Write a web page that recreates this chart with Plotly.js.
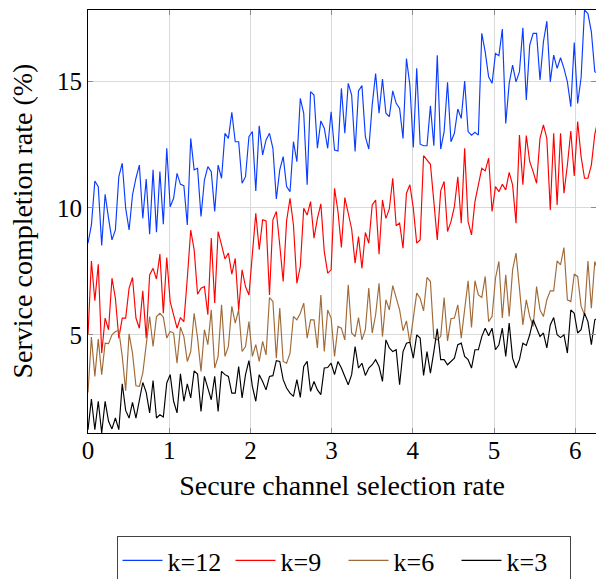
<!DOCTYPE html>
<html>
<head>
<meta charset="utf-8">
<script src="https://cdn.plot.ly/plotly-3.0.1.min.js"></script>
<style>html,body{margin:0;padding:0;background:#fff;}#chart{width:596px;height:579px;}</style>
</head>
<body>
<div id="chart"></div>
<script>
const N = 150;
const xStart = 0;
const xEnd = 2 * Math.PI;
const seriesNames = ['k=12', 'k=9', 'k=6', 'k=3'];
const xTicks = [0, 1, 2, 3, 4, 5, 6];
const yTicks = [5, 10, 15];

const k12 = [
8.61, 9.33, 11.06, 10.84, 8.52, 10.54, 9.59, 8.74, 9.13, 11.23, 11.76, 9.99, 9.13, 10.51, 11.17, 11.69, 9.59, 11.14, 8.96, 11.50, 9.04, 11.43, 9.36, 12.35, 10.05, 10.38, 11.36, 10.93, 10.88, 9.33,
12.74, 11.50, 11.56, 9.66, 11.10, 11.63, 11.43, 9.86, 11.69, 11.17, 12.94, 12.74, 13.77, 12.61, 12.61, 10.97, 11.23, 12.81, 13.01, 10.67, 13.24, 12.09, 12.68, 12.94, 12.35, 10.35, 11.50, 12.02, 10.84, 10.64,
12.61, 11.82, 14.32, 13.73, 10.91, 14.58, 14.45, 12.35, 13.43, 13.14, 12.35, 13.79, 12.28, 12.24, 14.71, 12.94, 14.91, 14.45, 12.22, 14.61, 14.82, 12.81, 12.32, 14.06, 15.30, 13.73, 15.08, 13.73, 13.60, 14.61,
14.12, 13.92, 12.74, 15.89, 14.84, 12.38, 15.50, 12.51, 12.45, 12.45, 14.02, 12.45, 16.02, 12.32, 13.01, 14.95, 12.61, 12.94, 13.90, 13.53, 15.00, 13.01, 12.87, 12.98, 12.87, 16.88, 16.15, 15.17, 14.91, 16.09,
16.00, 17.05, 13.33, 14.91, 15.63, 14.97, 15.37, 17.10, 14.25, 16.42, 16.88, 16.88, 15.04, 16.55, 17.36, 14.97, 16.02, 15.50, 15.92, 15.50, 14.97, 13.99, 16.52, 14.12, 15.13, 17.80, 17.66, 16.94, 15.37, 15.30
];
const k9 = [
5.00, 7.91, 6.34, 7.78, 4.28, 5.66, 5.20, 7.23, 6.44, 4.87, 5.66, 5.66, 6.84, 7.26, 5.66, 5.26, 6.73, 4.87, 7.36, 7.62, 7.20, 8.18, 5.85, 8.04, 6.31, 5.79, 5.26, 5.68, 5.52, 7.23,
9.13, 8.35, 6.60, 6.84, 6.90, 5.79, 8.81, 6.25, 9.07, 8.54, 7.99, 8.22, 7.39, 8.01, 5.98, 7.56, 6.90, 6.57, 8.22, 9.79, 8.35, 9.53, 9.49, 6.57, 9.53, 9.86, 8.54, 7.10, 9.49, 10.38,
9.33, 7.03, 7.69, 9.99, 9.72, 10.25, 8.81, 9.59, 10.16, 8.28, 7.43, 7.56, 10.77, 9.86, 8.44, 10.41, 9.79, 9.17, 7.82, 8.87, 7.62, 9.03, 8.61, 10.12, 10.31, 8.18, 10.31, 9.59, 9.96, 11.17,
9.30, 9.40, 8.41, 10.58, 10.91, 9.99, 8.61, 8.74, 12.06, 11.89, 11.72, 10.25, 8.74, 10.67, 11.04, 9.07, 9.46, 10.05, 11.23, 9.40, 12.35, 9.46, 8.94, 10.25, 10.84, 11.56, 11.46, 11.96, 9.86, 10.84,
10.64, 10.93, 10.71, 11.40, 10.91, 9.40, 12.87, 10.91, 12.85, 11.82, 11.43, 10.97, 12.74, 13.27, 12.74, 9.92, 12.94, 10.12, 12.94, 10.58, 11.69, 13.03, 11.26, 13.40, 12.02, 11.17, 11.17, 11.69, 12.90, 13.50
];
const k6 = [
2.73, 4.91, 3.36, 4.83, 3.43, 4.67, 4.65, 5.00, 5.13, 5.17, 4.15, 2.80, 5.04, 4.28, 2.99, 2.97, 3.49, 4.54, 5.72, 4.54, 5.72, 5.85, 5.70, 4.87, 5.13, 5.07, 3.88, 5.30, 4.93, 3.95,
4.34, 5.85, 4.87, 3.56, 5.20, 4.61, 5.98, 3.69, 4.15, 6.18, 4.15, 4.54, 6.12, 5.46, 5.98, 4.34, 4.54, 5.52, 4.15, 4.61, 3.95, 4.74, 4.21, 6.47, 6.31, 4.08, 6.05, 3.95, 3.88, 4.28,
5.72, 5.59, 5.85, 6.25, 4.87, 5.59, 5.59, 4.48, 6.57, 4.34, 5.98, 5.66, 4.15, 5.33, 5.26, 4.80, 6.97, 5.07, 4.93, 5.68, 4.80, 5.20, 6.84, 5.07, 5.79, 7.03, 4.93, 6.38, 5.98, 6.94,
6.44, 5.98, 5.16, 5.55, 4.67, 5.72, 6.64, 6.44, 5.94, 7.26, 7.10, 4.87, 4.80, 4.93, 6.47, 4.76, 5.63, 5.66, 6.18, 4.87, 6.12, 7.13, 5.29, 7.13, 6.57, 6.47, 7.30, 5.52, 5.72, 7.23,
7.89, 5.66, 7.36, 5.72, 7.56, 8.22, 6.84, 5.39, 6.38, 5.72, 5.33, 6.90, 5.98, 5.72, 6.38, 6.73, 6.73, 7.91, 7.76, 8.44, 6.38, 6.31, 7.39, 7.30, 6.12, 5.79, 7.91, 6.05, 7.89, 7.49
];
const k3 = [
1.26, 2.47, 1.26, 2.38, 1.13, 2.38, 1.59, 1.29, 1.72, 1.26, 3.07, 2.02, 1.72, 2.34, 1.72, 2.47, 3.12, 2.73, 1.92, 3.20, 1.72, 1.85, 1.76, 3.10, 3.43, 2.38, 1.92, 3.46, 2.38, 3.07,
2.51, 3.58, 3.45, 1.98, 3.36, 2.90, 2.44, 3.36, 1.98, 3.56, 3.43, 3.36, 2.70, 2.70, 3.75, 2.51, 3.43, 3.98, 2.97, 2.38, 3.43, 3.16, 2.83, 3.36, 3.39, 3.98, 3.95, 3.23, 2.90, 2.70,
2.57, 3.23, 2.53, 3.75, 3.95, 2.77, 3.16, 2.83, 2.64, 3.69, 3.71, 3.88, 3.43, 3.95, 3.69, 3.36, 3.03, 3.43, 4.54, 3.69, 3.88, 3.40, 3.69, 3.82, 4.02, 3.75, 3.16, 4.80, 4.48, 4.34,
4.41, 3.03, 4.34, 4.67, 4.71, 4.08, 5.00, 4.87, 3.40, 4.34, 3.49, 4.34, 5.24, 4.02, 4.02, 3.82, 3.95, 4.08, 4.61, 4.67, 4.15, 4.02, 3.69, 4.41, 4.41, 4.93, 5.26, 4.96, 5.26, 4.41,
4.61, 5.26, 4.15, 5.46, 4.08, 3.69, 4.02, 4.67, 4.58, 5.00, 5.59, 5.24, 4.93, 5.07, 4.48, 5.39, 5.68, 5.00, 4.89, 5.00, 4.28, 5.98, 5.85, 5.07, 5.20, 5.85, 5.52, 4.61, 5.59, 5.66
];

const xs = Array.from({length: N}, (_, i) => xStart + i * (xEnd - xStart) / (N - 1));
const seriesData = [k12, k9, k6, k3];
const colors = ['#0a3cff', '#ff0000', '#a06a38', '#000000'];

const FONT = 'Liberation Serif';
const traces = seriesData.map((ys, j) => ({
  x: xs, y: ys, type: 'scatter', mode: 'lines', name: seriesNames[j],
  line: {color: colors[j], width: 1.15}
}));

const axisCommon = {
  ticks: 'inside', ticklen: 5, tickwidth: 1, tickcolor: '#8c8c8c',
  showgrid: true, gridcolor: '#d9d9d9', gridwidth: 1,
  showline: true, linecolor: '#000', linewidth: 1, mirror: 'ticks',
  zeroline: false, tickfont: {family: FONT, size: 25, color: '#000'}
};

const layout = {
  width: 596, height: 579,
  margin: {l: 88, r: 0, t: 10, b: 146},
  paper_bgcolor: '#fff', plot_bgcolor: '#fff',
  font: {family: FONT, size: 25, color: '#000'},
  showlegend: true,
  xaxis: Object.assign({}, axisCommon, {
    range: [0, 6.256], tickmode: 'array', tickvals: xTicks, ticktext: xTicks.map(String),
    ticklabelstandoff: -5,
    title: {text: 'Secure channel selection rate', font: {family: FONT, size: 28}, standoff: 12}
  }),
  yaxis: Object.assign({}, axisCommon, {
    range: [1.13, 17.8], tickmode: 'array', tickvals: yTicks, ticktext: yTicks.map(String)
  }),
  annotations: [{
    text: 'Service completion rate (%)', xref: 'paper', yref: 'paper',
    x: (22 - 88) / 508, y: 0.5, xanchor: 'center', yanchor: 'middle',
    textangle: -90, showarrow: false, font: {family: FONT, size: 28, color: '#000'}
  }],
  legend: {
    orientation: 'h', xref: 'container', yref: 'container',
    x: 343.5 / 596, xanchor: 'center', y: 1 - 536 / 579, yanchor: 'top',
    bordercolor: '#444', borderwidth: 1, bgcolor: '#fff',
    font: {family: FONT, size: 26, color: '#000'}, itemwidth: 40, tracegroupgap: 0,
    entrywidth: 58, entrywidthmode: 'pixels'
  }
};

Plotly.newPlot('chart', traces, layout, {displayModeBar: false, staticPlot: true});
</script>
</body>
</html>
